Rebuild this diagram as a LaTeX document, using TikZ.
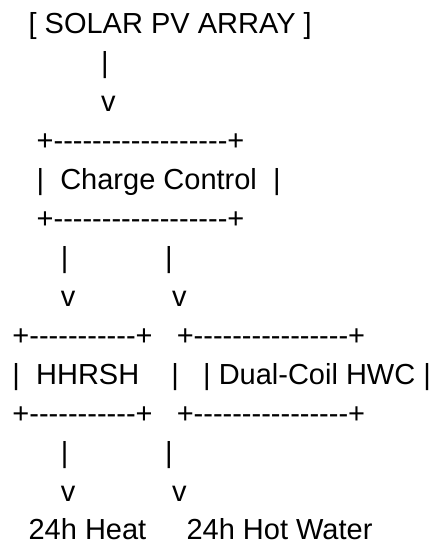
\documentclass[tikz,border=0pt]{standalone}
\usepackage{fontspec}
\newfontfamily\ascfont{Liberation Sans}
\begin{document}
\begin{tikzpicture}[x=1pt,y=1pt,
  ascline/.style={anchor=base west, inner sep=0pt, outer sep=0pt,
    font=\ascfont\fontsize{29}{39}\selectfont, text=black}]
\useasboundingbox (0,0) rectangle (437,-542);
\def\lx{12.5}
\node[ascline] (solar)    at (\lx,-33)  {~~[ SOLAR PV ARRAY ]};
\node[ascline] (pvbar)    at (\lx,-72)  {~~~~~~~~~~~|};
\node[ascline] (pvtip)    at (\lx,-111) {~~~~~~~~~~~v};
\node[ascline] (cctop)    at (\lx,-150) {~~~+------------------+};
\node[ascline] (cc)       at (\lx,-189) {~~~|~~Charge Control~~|};
\node[ascline] (ccbot)    at (\lx,-228) {~~~+------------------+};
\node[ascline] (splitbar) at (\lx,-267) {~~~~~~|~~~~~~~~~~~~|};
\node[ascline] (splittip) at (\lx,-306) {~~~~~~v~~~~~~~~~~~~v};
\node[ascline] (boxtop)   at (\lx,-345) {+-----------+~~~+----------------+};
\node[ascline] (boxes)    at (\lx,-384) {|~~HHRSH~~~~|~~~|~Dual-Coil HWC~|};
\node[ascline] (boxbot)   at (\lx,-423) {+-----------+~~~+----------------+};
\node[ascline] (outbar)   at (\lx,-462) {~~~~~~|~~~~~~~~~~~~|};
\node[ascline] (outtip)   at (\lx,-501) {~~~~~~v~~~~~~~~~~~~v};
\node[ascline, text depth=0pt] (outputs) at (\lx,-539.5) {~~24h Heat~~~~~24h Hot Water};
\end{tikzpicture}
\end{document}
